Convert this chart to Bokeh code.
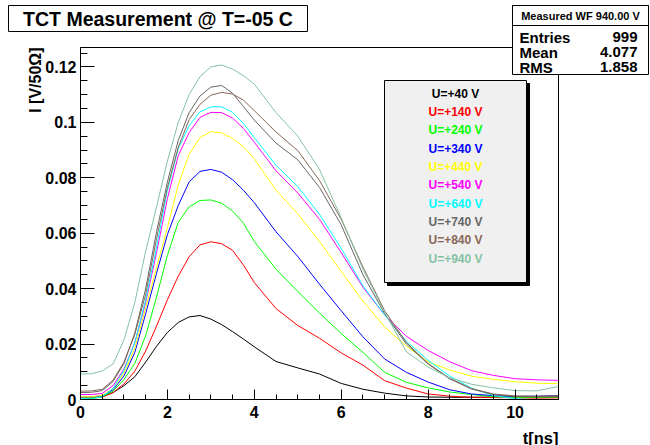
import math
import numpy as np
from bokeh.plotting import figure
from bokeh.models import FixedTicker, Label, BoxAnnotation
from bokeh.embed import file_html
from bokeh.resources import INLINE

# ---------------- data ----------------
T = [0, 0.25, 0.5, 0.75, 1.0, 1.25, 1.5, 1.75, 2.0, 2.25, 2.5, 2.75, 3.0, 3.25, 3.5, 3.75,
     4.0, 4.5, 5.0, 5.5, 6.0, 6.5, 7.0, 7.5, 8.0, 8.5, 9.0, 9.5, 10.0, 10.5, 11.0]

U40 = [0.0004, 0.0005, 0.0010, 0.0025, 0.0050, 0.0082, 0.0135, 0.0192, 0.0242, 0.0278, 0.0298,
       0.0303, 0.0290, 0.0270, 0.0245, 0.0218, 0.0190, 0.0137, 0.0114, 0.0092, 0.0058, 0.0037,
       0.0023, 0.0013, 0.0009, 0.0008, 0.0008, 0.0009, 0.0009, 0.0008, 0.0008]
U140 = [0.0005, 0.0005, 0.0008, 0.0025, 0.0056, 0.0102, 0.0175, 0.0265, 0.0360, 0.0445, 0.0515,
        0.0558, 0.0569, 0.0562, 0.0538, 0.0485, 0.0422, 0.0328, 0.0267, 0.0221, 0.0168, 0.0124,
        0.0068, 0.0041, 0.0020, 0.0012, 0.0008, 0.0007, 0.0006, 0.0005, 0.0006]
U240 = [0.0005, 0.0005, 0.0010, 0.0030, 0.0072, 0.0130, 0.0230, 0.0370, 0.0520, 0.0640, 0.0695,
        0.0718, 0.0720, 0.0708, 0.0680, 0.0636, 0.0570, 0.0470, 0.0390, 0.0312, 0.0238, 0.0170,
        0.0098, 0.0062, 0.0042, 0.0027, 0.0018, 0.0010, 0.0008, 0.0008, 0.0009]
U340 = [0.0010, 0.0010, 0.0013, 0.0035, 0.0085, 0.0170, 0.0310, 0.0455, 0.0595, 0.0700, 0.0785,
        0.0823, 0.0830, 0.0820, 0.0793, 0.0755, 0.0710, 0.0605, 0.0516, 0.0416, 0.0320, 0.0226,
        0.0146, 0.0098, 0.0063, 0.0035, 0.0020, 0.0014, 0.0011, 0.0012, 0.0014]
U440 = [0.0010, 0.0010, 0.0015, 0.0040, 0.0095, 0.0185, 0.0330, 0.0475, 0.0620, 0.0775, 0.0885,
        0.0945, 0.0966, 0.0962, 0.0942, 0.0912, 0.0868, 0.0755, 0.0670, 0.0570, 0.0462, 0.0355,
        0.0262, 0.0192, 0.0136, 0.0106, 0.0084, 0.0073, 0.0064, 0.0059, 0.0057]
U540 = [0.0018, 0.0018, 0.0022, 0.0050, 0.0110, 0.0205, 0.0350, 0.0530, 0.0725, 0.0880, 0.0963,
        0.1018, 0.1036, 0.1035, 0.1015, 0.0978, 0.0928, 0.0825, 0.0745, 0.0650, 0.0530, 0.0405,
        0.0305, 0.0228, 0.0177, 0.0136, 0.0104, 0.0087, 0.0075, 0.0071, 0.0069]
U640 = [0.0003, 0.0003, 0.0010, 0.0040, 0.0105, 0.0205, 0.0360, 0.0550, 0.0755, 0.0905, 0.0988,
        0.1038, 0.1056, 0.1056, 0.1036, 0.0996, 0.0945, 0.0845, 0.0768, 0.0668, 0.0545, 0.0410,
        0.0305, 0.0210, 0.0141, 0.0084, 0.0041, 0.0014, 0.0003, -0.0002, 0.0000]
U740 = [0.0025, 0.0026, 0.0032, 0.0065, 0.0130, 0.0240, 0.0400, 0.0605, 0.0785, 0.0935, 0.1035,
        0.1095, 0.1127, 0.1133, 0.1105, 0.1057, 0.1008, 0.0925, 0.0865, 0.0765, 0.0630, 0.0450,
        0.0310, 0.0200, 0.0128, 0.0074, 0.0038, 0.0018, 0.0011, 0.0010, 0.0012]
U840 = [0.0030, 0.0031, 0.0037, 0.0070, 0.0135, 0.0235, 0.0380, 0.0580, 0.0765, 0.0910, 0.1010,
        0.1065, 0.1098, 0.1108, 0.1102, 0.1080, 0.1042, 0.0965, 0.0898, 0.0790, 0.0650, 0.0478,
        0.0320, 0.0205, 0.0130, 0.0076, 0.0039, 0.0020, 0.0013, 0.0012, 0.0013]
U940 = [0.0092, 0.0093, 0.0103, 0.0128, 0.0215, 0.0350, 0.0535, 0.0695, 0.0860, 0.1000, 0.1100,
        0.1165, 0.1200, 0.1207, 0.1192, 0.1168, 0.1138, 0.1035, 0.0950, 0.0830, 0.0655, 0.0470,
        0.0315, 0.0172, 0.0117, 0.0078, 0.0055, 0.0042, 0.0032, 0.0031, 0.0047]

SERIES = [U40, U140, U240, U340, U440, U540, U640, U740, U840, U940]
NAMES = ["U=+40 V", "U=+140 V", "U=+240 V", "U=+340 V", "U=+440 V",
         "U=+540 V", "U=+640 V", "U=+740 V", "U=+840 V", "U=+940 V"]
COLORS = ["#000000", "#ff0000", "#00ff00", "#0000ff", "#ffff00",
          "#ff00ff", "#00ffff", "#666666", "#876656", "#85c2a3"]

X_TICKS = [0, 2, 4, 6, 8, 10]
X_TICK_LABELS = ["0", "2", "4", "6", "8", "10"]
Y_TICKS = [0, 0.02, 0.04, 0.06, 0.08, 0.1, 0.12]
Y_TICK_LABELS = ["0", "0.02", "0.04", "0.06", "0.08", "0.1", "0.12"]

TITLE = "TCT Measurement @ T=-05 C"
STATS_HEADER = "Measured WF 940.00 V"
STATS_NAMES = ["Entries", "Mean", "RMS"]
STATS_VALUES = ["999", "4.077", "1.858"]
X_TITLE = "t[ns]"
Y_TITLE = "I [V/50\u03a9]"

# ---------------- layout ----------------
W, H = 650, 445
FL, FR, FT, FB = 80, 558, 47, 399
XMIN, XMAX = 0.0, 11.0
YMIN, YMAX = 0.0, 0.127
FONT = "Liberation Sans"


def dx(px):
    return XMIN + (px - FL) / (FR - FL) * (XMAX - XMIN)


def dy(py):
    return YMIN + (FB - py) / (FB - FT) * (YMAX - YMIN)


p = figure(width=W, height=H, x_range=(XMIN, XMAX), y_range=(YMIN, YMAX),
           output_backend="svg", toolbar_location=None,
           min_border_left=FL, min_border_right=W - FR,
           min_border_top=FT, min_border_bottom=H - FB)
p.grid.visible = False
p.background_fill_color = "white"
p.border_fill_color = "white"
p.outline_line_color = "black"
p.outline_line_width = 1
p.outline_line_alpha = 1

xa = p.xaxis[0]
xa.ticker = FixedTicker(ticks=X_TICKS, minor_ticks=list(np.arange(0, 11.001, 0.5)))
xa.major_label_overrides = {t: l for t, l in zip(X_TICKS, X_TICK_LABELS)}
xa.major_tick_in = 10
xa.major_tick_out = 0
xa.minor_tick_in = 5
xa.minor_tick_out = 0
xa.major_label_standoff = 6

ya = p.yaxis[0]
ya.ticker = FixedTicker(ticks=Y_TICKS, minor_ticks=list(np.arange(0, 0.1271, 0.005)))
ya.major_label_overrides = {t: l for t, l in zip(Y_TICKS, Y_TICK_LABELS)}
ya.major_tick_in = 14
ya.major_tick_out = 0
ya.minor_tick_in = 7
ya.minor_tick_out = 0
ya.major_label_standoff = 4

for ax in (xa, ya):
    ax.axis_line_color = "black"
    ax.major_tick_line_color = "black"
    ax.minor_tick_line_color = "black"
    ax.major_label_text_font = FONT
    ax.major_label_text_font_style = "bold"
    ax.major_label_text_font_size = "16px"
    ax.major_label_text_color = "black"

for vals, col in zip(SERIES, COLORS):
    p.line(T, vals, line_color=col, line_width=1)

# legend (pave with shadow) inside the frame
p.add_layout(BoxAnnotation(left=dx(387), right=dx(529), top=dy(83), bottom=dy(285),
                           fill_color="black", fill_alpha=1, line_color="black", line_alpha=1))
p.add_layout(BoxAnnotation(left=dx(384), right=dx(526), top=dy(80), bottom=dy(282),
                           fill_color="#f0f0f0", fill_alpha=1, line_color="black",
                           line_alpha=1, line_width=1))
for i, (name, col) in enumerate(zip(NAMES, COLORS)):
    p.add_layout(Label(x=dx(455), y=dy(93.3 + i * 18.33), text=name,
                       text_align="center", text_baseline="middle",
                       text_color=col, text_font=FONT, text_font_style="bold",
                       text_font_size="12px"))

# ---------------- overlay canvas for the texts outside the frame ----------------
ov = figure(width=W, height=H, x_range=(0, W), y_range=(0, H),
            output_backend="svg", toolbar_location=None,
            x_axis_type=None, y_axis_type=None, min_border=0)
ov.outline_line_color = None
ov.background_fill_alpha = 0
ov.border_fill_alpha = 0
ov.styles = {"position": "absolute", "left": "0px", "top": "0px", "z-index": "5"}


def oy(py):
    return H - py


def box(l, r, t, b, fill="white"):
    ov.add_layout(BoxAnnotation(left=l, right=r, top=oy(t), bottom=oy(b),
                                fill_color=fill, fill_alpha=1, line_color="black",
                                line_alpha=1, line_width=1))


def text(x, y, s, size, align="center", angle=0.0, color="black"):
    ov.add_layout(Label(x=x, y=oy(y), text=s, text_align=align, text_baseline="middle",
                        angle=angle, text_font=FONT, text_font_style="bold",
                        text_font_size=size, text_color=color))


# title pave
box(8, 307, 5, 31)
text(157.5, 18.5, TITLE, "19.5px")

# stats box
box(512, 648, 5, 74)
box(512, 648, 5, 25)
text(580, 15.5, STATS_HEADER, "11px")
for i, (n, v) in enumerate(zip(STATS_NAMES, STATS_VALUES)):
    yy = 36.5 + i * 15.2
    text(519, yy, n, "15px", align="left")
    text(637, yy, v, "15px", align="right")

# axis titles
text(558, 437, X_TITLE, "16.5px", align="right")
text(35, 47, Y_TITLE, "16px", align="right", angle=math.pi / 2)

open("out.html", "w").write(file_html([p, ov], INLINE))
